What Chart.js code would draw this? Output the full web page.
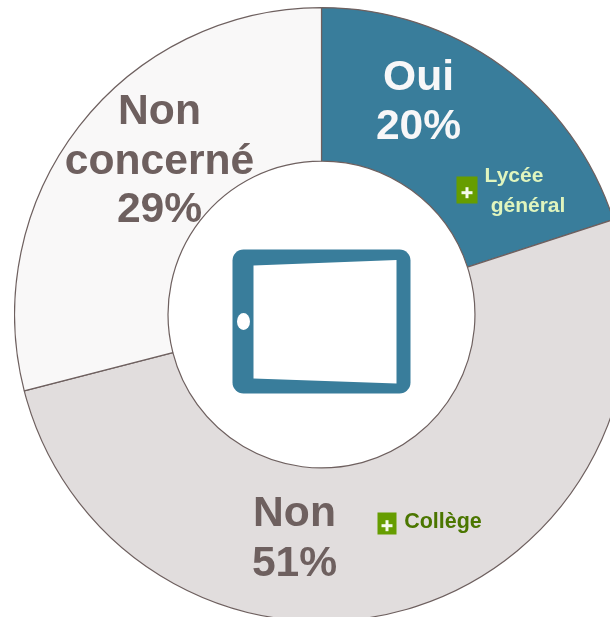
<!DOCTYPE html>
<html><head><meta charset="utf-8">
<style>html,body{margin:0;padding:0;background:#fff;overflow:hidden;width:610px;height:617px}
#w{position:relative;width:610px;height:617px;overflow:hidden}
canvas{position:absolute;left:13.5px;top:6.5px}</style>
<script src="https://cdn.jsdelivr.net/npm/chart.js@4"></script></head>
<body><div id="w"><canvas id="c" width="615" height="615" style="width:615px;height:615px"></canvas></div>
<script>
const categories = ['Oui', 'Non', 'Non concerné'];
const values = [20, 51, 29];
const colors = ['#397D9B', '#E1DDDD', '#F9F8F8'];
const BROWN = '#6E605F';
const OFFSET_X = 13.5, OFFSET_Y = 6.5;
const texts = [
 ['Oui', 418, 78, 42.6, '#F7F7F8'], ['20%', 418, 127, 42.6, '#F7F7F8'],
 ['Non', 159, 112, 42.6, BROWN], ['concerné', 159, 161.5, 42.6, BROWN], ['29%', 159, 210, 42.6, BROWN],
 ['Non', 294, 514, 42.6, BROWN], ['51%', 294, 563.5, 42.6, BROWN],
 ['Lycée', 513.5, 176, 21, '#E0F5BE'], ['général', 527.5, 206, 21, '#E0F5BE'],
 ['Collège', 442.5, 521.5, 21.5, '#4B7600']
];
const badges = [[456, 176, 21, 27], [377, 512, 19, 22]];
const overlay = {
 id: 'overlay',
 afterDraw(chart) {
  const g = chart.ctx;
  g.save();
  g.translate(-OFFSET_X, -OFFSET_Y);
  g.fillStyle = '#397D9B';
  g.beginPath(); g.roundRect(232, 249, 178, 144, 11); g.fill();
  g.fillStyle = '#fff';
  g.beginPath(); g.moveTo(253, 265); g.lineTo(396, 259.5); g.lineTo(396, 383); g.lineTo(253, 378); g.closePath(); g.fill();
  g.beginPath(); g.ellipse(243, 321, 6.5, 8.5, 0, 0, Math.PI * 2); g.fill();
  for (const [x, y, w, h] of badges) {
   g.fillStyle = '#669D00'; g.fillRect(x, y, w, h);
   const cx = x + w / 2, cy = y + h * 0.6;
   g.fillStyle = '#F4FAEC';
   g.fillRect(cx - 5.5, cy - 1.5, 11, 3);
   g.fillRect(cx - 1.5, cy - 5.5, 3, 11);
  }
  g.textAlign = 'center'; g.textBaseline = 'middle';
  for (const [t, x, y, s, col] of texts) {
   g.font = 'bold ' + s + 'px "Liberation Sans", Arial, sans-serif';
   g.fillStyle = col; g.fillText(t, x, y);
  }
  g.restore();
 }
};
new Chart(document.getElementById('c'), {
 type: 'doughnut',
 data: { labels: categories, datasets: [{ data: values, backgroundColor: colors, borderColor: BROWN, borderWidth: 1.2, borderAlign: 'center' }] },
 options: {
  responsive: false, animation: false, cutout: '50%', rotation: 0, circumference: 360,
  layout: { padding: 0 },
  plugins: { legend: { display: false }, tooltip: { enabled: false }, title: { display: false } }
 },
 plugins: [overlay]
});
</script></body></html>
